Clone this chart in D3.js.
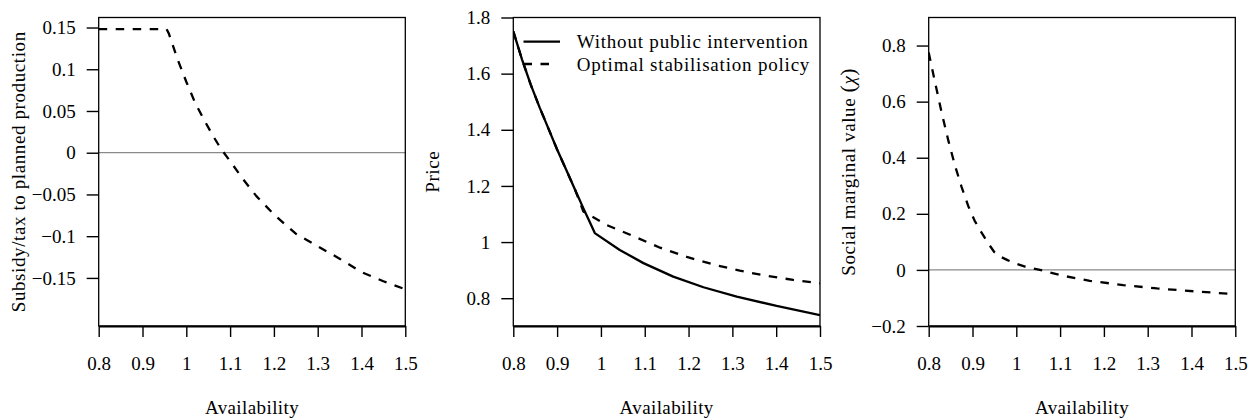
<!DOCTYPE html>
<html><head><meta charset="utf-8">
<script src="https://cdn.jsdelivr.net/npm/d3@7"></script>
<style>
body{margin:0;background:#fff}
text{font-family:"Liberation Serif","DejaVu Serif",serif;fill:#000}
</style>
</head><body><svg id="c" width="1248" height="418"></svg>
<script>
// ---- data ----
const xTicks = [0.8, 0.9, 1, 1.1, 1.2, 1.3, 1.4, 1.5];
const xTickLabels = ["0.8", "0.9", "1", "1.1", "1.2", "1.3", "1.4", "1.5"];
const xTitle = "Availability";

// Panel 1: subsidy / tax to planned production (optimal policy)
const subsidyAvail = [0.80, 0.955, 0.96, 0.98, 1.00, 1.02, 1.04, 1.06, 1.08, 1.10, 1.13, 1.16, 1.20, 1.25, 1.30, 1.35, 1.40, 1.45, 1.50];
const subsidyValue = [0.148, 0.148, 0.143, 0.112, 0.085, 0.060, 0.040, 0.021, 0.004, -0.010, -0.032, -0.052, -0.074, -0.097, -0.112, -0.127, -0.143, -0.154, -0.1636];
const subsidyTicks = [0.15, 0.1, 0.05, 0, -0.05, -0.1, -0.15];
const subsidyTickLabels = ["0.15", "0.1", "0.05", "0", "\u22120.05", "\u22120.1", "\u22120.15"];
const subsidyTitle = "Subsidy/tax to planned production";

// Panel 2: price
const priceAvailNoInt = [0.80, 0.82, 0.84, 0.86, 0.88, 0.90, 0.92, 0.94, 0.96, 0.975, 0.986, 1.043, 1.097, 1.165, 1.234, 1.31, 1.401, 1.50];
const priceNoInt = [1.751, 1.65, 1.56, 1.48, 1.405, 1.33, 1.26, 1.19, 1.12, 1.07, 1.032, 0.972, 0.925, 0.877, 0.839, 0.806, 0.7725, 0.740];
const priceAvailPolicy = [0.80, 0.82, 0.84, 0.86, 0.88, 0.90, 0.92, 0.94, 0.96, 1.013, 1.074, 1.135, 1.196, 1.257, 1.317, 1.378, 1.439, 1.50];
const pricePolicy = [1.751, 1.65, 1.56, 1.48, 1.405, 1.33, 1.26, 1.19, 1.109, 1.061, 1.021, 0.980, 0.947, 0.920, 0.898, 0.880, 0.865, 0.853];
const priceTicks = [0.8, 1, 1.2, 1.4, 1.6, 1.8];
const priceTickLabels = ["0.8", "1", "1.2", "1.4", "1.6", "1.8"];
const priceTitle = "Price";
const legendLabels = ["Without public intervention", "Optimal stabilisation policy"];

// Panel 3: social marginal value (chi)
const chiAvail = [0.800, 0.815, 0.830, 0.845, 0.860, 0.875, 0.890, 0.905, 0.920, 0.935, 0.950, 0.960, 0.980, 1.000, 1.020, 1.054, 1.107, 1.168, 1.244, 1.321, 1.412, 1.500];
const chiValue = [0.775, 0.665, 0.558, 0.460, 0.372, 0.296, 0.229, 0.175, 0.135, 0.097, 0.063, 0.050, 0.035, 0.022, 0.012, 0.000, -0.021, -0.039, -0.054, -0.066, -0.077, -0.0865];
const chiTicks = [-0.2, 0, 0.2, 0.4, 0.6, 0.8];
const chiTickLabels = ["\u22120.2", "0", "0.2", "0.4", "0.6", "0.8"];

// ---- layout ----
const svg = d3.select("#c");
svg.append("rect").attr("width", 1248).attr("height", 418).attr("fill", "#fff");
const TOP = 17.5, BOTTOM = 326;
const FS = 19;
const SERIF = "Liberation Serif, DejaVu Serif, serif";

const panels = [
  {left: 98.7, right: 405.3, ydom: [-0.2076, 0.162], ticks: subsidyTicks, labels: subsidyTickLabels, zero: true,
   series: [{x: subsidyAvail, y: subsidyValue, dash: true}]},
  {left: 513.3, right: 820, ydom: [0.701, 1.8], ticks: priceTicks, labels: priceTickLabels, zero: false,
   series: [{x: priceAvailPolicy, y: pricePolicy, dash: true}, {x: priceAvailNoInt, y: priceNoInt, dash: false}]},
  {left: 928.7, right: 1235.3, ydom: [-0.2, 0.9], ticks: chiTicks, labels: chiTickLabels, zero: true,
   series: [{x: chiAvail, y: chiValue, dash: true}]}
];

panels.forEach((p, i) => {
  const x = d3.scaleLinear().domain([0.8, 1.5]).range([p.left, p.right]);
  const y = d3.scaleLinear().domain(p.ydom).range([BOTTOM, TOP]);
  const g = svg.append("g");
  const cid = "clip" + i;
  svg.append("clipPath").attr("id", cid).append("rect")
    .attr("x", p.left).attr("y", TOP).attr("width", p.right - p.left).attr("height", BOTTOM - TOP);

  if (p.zero) {
    g.append("line").attr("x1", p.left).attr("x2", p.right).attr("y1", y(0)).attr("y2", y(0))
      .attr("stroke", "#8a8a8a").attr("stroke-width", 1.3);
  }

  const lines = g.append("g").attr("clip-path", `url(#${cid})`);
  p.series.forEach(s => {
    const pts = s.x.map((v, k) => [v, s.y[k]]);
    lines.append("path")
      .attr("d", d3.line().x(d => x(d[0])).y(d => y(d[1]))(pts))
      .attr("fill", "none").attr("stroke", "#000").attr("stroke-width", 2.3)
      .attr("stroke-linejoin", "round")
      .attr("stroke-dasharray", s.dash ? "8.5,8.5" : null);
  });

  // frame
  g.append("rect").attr("x", p.left).attr("y", TOP).attr("width", p.right - p.left).attr("height", BOTTOM - TOP)
    .attr("fill", "none").attr("stroke", "#000").attr("stroke-width", 1.3);

  // x axis
  const xa = d3.axisBottom(x).tickValues(xTicks).tickFormat((d, k) => xTickLabels[k]).tickSizeInner(11).tickSizeOuter(0).tickPadding(20);
  const xg = g.append("g").attr("transform", `translate(0,${BOTTOM})`).call(xa).attr("font-family", SERIF);
  xg.select(".domain").attr("stroke-width", 2.2);
  xg.selectAll(".tick line").attr("stroke-width", 1.4);
  xg.selectAll("text").attr("font-size", FS).attr("dy", "0.71em");

  // y axis
  const ya = d3.axisLeft(y).tickValues(p.ticks).tickFormat((d, k) => p.labels[k]).tickSizeInner(12).tickSizeOuter(0).tickPadding(11);
  const yg = g.append("g").attr("transform", `translate(${p.left},0)`).call(ya).attr("font-family", SERIF);
  yg.select(".domain").remove();
  yg.selectAll(".tick line").attr("stroke-width", 1.4);
  yg.selectAll("text").attr("font-size", FS);

  // x title
  g.append("text").attr("x", (p.left + p.right) / 2).attr("y", 413.5).attr("text-anchor", "middle")
    .attr("font-size", FS).attr("letter-spacing", 0.4).text(xTitle);

  // y title
  const yt = g.append("text").attr("transform", `translate(${p.left - 74},${(TOP + BOTTOM) / 2}) rotate(-90)`)
    .attr("text-anchor", "middle").attr("font-size", FS).attr("letter-spacing", 0.6);
  if (i === 0) yt.text(subsidyTitle);
  else if (i === 1) yt.text(priceTitle);
  else {
    yt.append("tspan").text("Social marginal value ");
    yt.append("tspan").attr("font-size", FS * 1.15).text("(");
    yt.append("tspan").attr("font-style", "italic").text("\u03c7");
    yt.append("tspan").attr("font-size", FS * 1.15).text(")");
  }

  if (i === 1) {
    const lg = g.append("g");
    const rows = [{y: 41.7, dash: false}, {y: 64, dash: true}];
    rows.forEach((r, k) => {
      lg.append("line").attr("x1", 523.5).attr("x2", r.dash ? 551 : 560).attr("y1", r.y).attr("y2", r.y)
        .attr("stroke", "#000").attr("stroke-width", 2.3).attr("stroke-dasharray", r.dash ? "8.5,8.5" : null);
      lg.append("text").attr("x", 576.7).attr("y", r.y + 6.6).attr("font-size", FS)
        .attr("letter-spacing", 0.8).text(legendLabels[k]);
    });
  }
});
</script>
</body></html>
